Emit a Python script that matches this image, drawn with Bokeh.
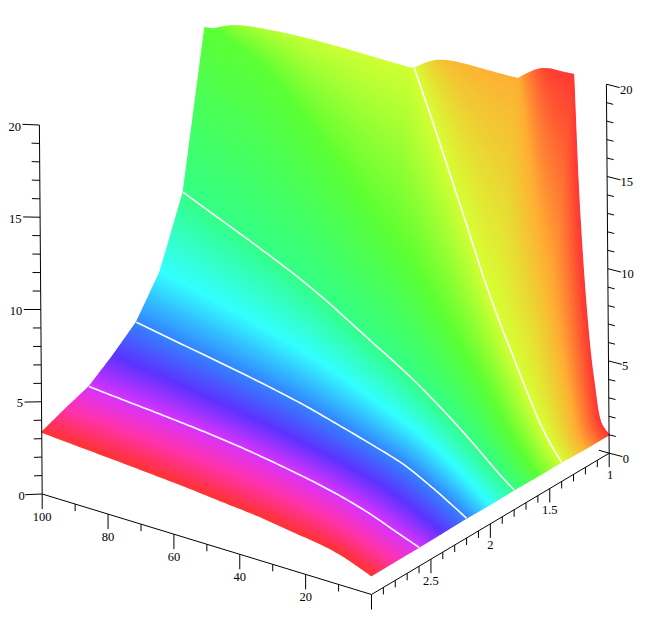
import numpy as np
from bokeh.plotting import figure
from bokeh.core.properties import value
from bokeh.embed import file_html
from bokeh.resources import INLINE

# ---- data: one height profile per level of y -------------------------------
y_nodes = [1.0, 1.2, 1.4, 1.6, 1.8, 2.0, 2.2, 2.4, 2.6, 2.8, 3.0]
x_y10 = [0, 2.4, 3.5, 4.2, 5.3, 8.6, 10, 15, 100]
z_y10 = [1.00, 1.50, 2.30, 3.30, 4.80, 13.2, 20.3, 45, 300]
x_y12 = [0, 2.5, 5, 8, 11, 15, 19, 25, 100]
z_y12 = [1.00, 1.70, 3.80, 6.80, 10.0, 14.0, 19.3, 26, 120]
x_y14 = [0, 2.5, 6.35, 9.3, 11.3, 14, 18.3, 23.3, 28.2, 33.2, 38.1, 44.1, 50, 100]
z_y14 = [1.05, 1.65, 2.78, 3.89, 4.68, 5.79, 7.55, 9.80, 12.30, 14.80, 17.25, 20.1, 23, 49]
x_y16 = [0, 2.5, 5, 10, 15, 20, 30, 40, 50, 70, 85, 91, 95, 100]
z_y16 = [1.05, 1.55, 2.10, 3.30, 4.70, 6.05, 8.55, 10.9, 12.7, 16.6, 18.97, 19.44, 19.76, 20.3]
x_y18 = [0, 3.1, 13.1, 23.2, 33.3, 42.3, 61.5, 100]
z_y18 = [1.08, 1.50, 3.04, 4.48, 5.73, 6.69, 8.71, 11.76]
x_y20 = [0, 5, 10, 20, 30, 40, 50, 70, 100]
z_y20 = [1.05, 1.75, 2.40, 3.55, 4.40, 5.15, 5.85, 6.95, 8.20]
x_y22 = [0, 4.8, 9.9, 19, 29, 40.2, 50.2, 100]
z_y22 = [1.08, 1.60, 2.13, 2.95, 3.52, 4.09, 4.57, 6.25]
x_y24 = [0, 5, 10, 20, 30, 40, 50, 70, 100]
z_y24 = [1.05, 1.48, 1.95, 2.65, 3.12, 3.52, 3.87, 4.45, 5.20]
x_y26 = [0, 5.6, 15.6, 25.8, 35.9, 59.2, 100]
z_y26 = [1.03, 1.40, 2.08, 2.60, 2.98, 3.63, 4.29]
x_y28 = [0, 5, 10, 20, 30, 40, 50, 70, 100]
z_y28 = [1.03, 1.35, 1.68, 2.25, 2.62, 2.90, 3.12, 3.50, 3.85]
x_y30 = [0, 4.3, 9.3, 14.4, 24.5, 34.6, 44.7, 54.8, 100]
z_y30 = [1.02, 1.33, 1.65, 1.87, 2.13, 2.40, 2.57, 2.75, 3.35]
hue_nodes = [0, 36, 72, 108, 144, 180, 216, 252, 288, 324, 360]
white_lines = [1.4, 1.8, 2.2, 2.6]
x_ticks = [100, 90, 80, 70, 60, 50, 40, 30, 20, 10, 0]
x_labels = {100: "100", 80: "80", 60: "60", 40: "40", 20: "20"}
y_ticks = [1.0, 1.1, 1.2, 1.3, 1.4, 1.5, 1.6, 1.7, 1.8, 1.9, 2.0, 2.1, 2.2, 2.3, 2.4, 2.5, 2.6, 2.7, 2.8, 2.9, 3.0]
y_labels = {1.0: "1", 1.5: "1.5", 2.0: "2", 2.5: "2.5"}
z_ticks = list(range(0, 21))
z_labels = {0: "0", 5: "5", 10: "10", 15: "15", 20: "20"}

profiles = [(x_y10, z_y10), (x_y12, z_y12), (x_y14, z_y14), (x_y16, z_y16), (x_y18, z_y18), (x_y20, z_y20),
            (x_y22, z_y22), (x_y24, z_y24), (x_y26, z_y26), (x_y28, z_y28), (x_y30, z_y30)]
Y = np.array(y_nodes, float)
Z_TOP = 20.0
Z_CAP = 20.4


def pchip(xk, yk, xq):
    """Monotone cubic drawn through the read values, so the curves are not jagged."""
    xk, yk = np.array(xk, float), np.array(yk, float)
    h = np.diff(xk)
    d = np.diff(yk) / h
    m = np.zeros_like(yk)
    for i in range(1, len(xk) - 1):
        if d[i - 1] * d[i] > 0:
            w1, w2 = 2 * h[i] + h[i - 1], h[i] + 2 * h[i - 1]
            m[i] = (w1 + w2) / (w1 / d[i - 1] + w2 / d[i])
    m[0], m[-1] = d[0], d[-1]
    i = np.clip(np.searchsorted(xk, xq, side="right") - 1, 0, len(xk) - 2)
    t = (xq - xk[i]) / h[i]
    return ((2 * t**3 - 3 * t**2 + 1) * yk[i] + (t**3 - 2 * t**2 + t) * h[i] * m[i]
            + (-2 * t**3 + 3 * t**2) * yk[i + 1] + (t**3 - t**2) * h[i] * m[i + 1])


# drawing mesh: finer in x, each row capped like the source surface
XF = np.unique(np.concatenate([np.linspace(0, 12, 25), np.linspace(12, 50, 39), np.linspace(50, 100, 41)]))
ZF = np.minimum(np.array([pchip(a, b, XF) for a, b in profiles]), Z_CAP)


# ---- the view: a fixed projection onto the page ---------------------------
def proj(x, y, z):
    x, y, z = np.asarray(x, float), np.asarray(y, float), np.asarray(z, float)
    px = 371 + (3 - y) * 118.85 - 3.293 * x - 0.14 * z
    py = 594 - (3 - y) * 70.65 - 1.005 * x - 18.45 * z
    return px, py


def profile(y):
    """Heights along x at level y, cut where they leave the box."""
    i = min(np.searchsorted(Y, y, side="right") - 1, len(Y) - 2)
    f = (y - Y[i]) / (Y[i + 1] - Y[i])
    z = ZF[i] * (1 - f) + ZF[i + 1] * f
    xs, zs = [XF[0]], [z[0]]
    for k in range(1, len(XF)):
        if z[k] >= Z_TOP:
            t = (Z_TOP - z[k - 1]) / (z[k] - z[k - 1]) if z[k - 1] < Z_TOP else 0
            xs.append(XF[k - 1] + t * (XF[k] - XF[k - 1]))
            zs.append(Z_TOP)
            break
        xs.append(XF[k])
        zs.append(z[k])
    return np.array(xs), np.array(zs)


def hsv(h, s=0.8, v=1.0):
    h = (h % 360) / 60.0
    c = v * s
    q = c * (1 - abs(h % 2 - 1))
    r, g, b = [(c, q, 0), (q, c, 0), (0, c, q), (0, q, c), (q, 0, c), (c, 0, q)][int(h) % 6]
    m = v - c
    return np.array([r + m, g + m, b + m]) * 255


node_rgb = np.array([hsv(h) for h in hue_nodes])


def rgb_at(y):
    return "#%02x%02x%02x" % tuple(
        int(round(float(np.interp(y, Y, node_rgb[:, c])))) for c in range(3))


p = figure(width=634, height=614, x_range=(0, 634), y_range=(614, 0),
           output_backend="svg", toolbar_location=None, min_border=0,
           outline_line_color=None, background_fill_color="white")
p.axis.visible = False
p.grid.visible = False

# surface: thin strips of constant level, drawn from the back to the front
levels = np.linspace(1.0, 3.0, 241)
pxs, pys, cols = [], [], []
for a, b in zip(levels[:-1], levels[1:]):
    xa, za = profile(a)
    xb, zb = profile(b)
    ax, ay = proj(xa, a, za)
    bx, by = proj(xb, b, zb)
    pxs.append(np.round(np.concatenate([ax, bx[::-1]]), 2).tolist())
    pys.append(np.round(np.concatenate([ay, by[::-1]]), 2).tolist())
    cols.append(rgb_at((a + b) / 2))
p.patches(pxs, pys, fill_color=cols, line_color=cols, line_width=1.1)

# white level lines
wx, wy = [], []
for lv in white_lines:
    xs, zs = profile(lv)
    a, b = proj(xs, lv, zs)
    wx.append(a.tolist())
    wy.append(b.tolist())
p.multi_line(wx, wy, line_color="white", line_width=1.6)

lx, ly = [], []
tx, ty, tt, ta = [], [], [], []


def add_line(a, b):
    lx.append([float(a[0]), float(b[0])])
    ly.append([float(a[1]), float(b[1])])


add_line(proj(100, 3, 0), proj(0, 3, 0))
add_line(proj(0, 3, 0), proj(0, 1, 0))
add_line(proj(100, 3, 0), proj(100, 3, 20))
add_line(proj(0, 1, 0), proj(0, 1, 20))

for v in x_ticks:
    a = proj(v, 3, 0)
    major = v % 20 == 0
    add_line(a, (a[0], a[1] + (15 if major else 7)))
    if v in x_labels:
        tx.append(float(a[0])); ty.append(float(a[1]) + 22.5); tt.append(x_labels[v]); ta.append("center")

for v in y_ticks:
    a = proj(0, v, 0)
    major = abs(v * 2 - round(v * 2)) < 1e-9
    if v == 3.0:
        continue
    add_line(a, (a[0], a[1] + (14 if major else 7)))
    if v in y_labels:
        tx.append(float(a[0]) + (1.0 if v == 1.0 else 0)); ty.append(float(a[1]) + 21.5); tt.append(y_labels[v]); ta.append("center")

for v in z_ticks:
    major = v % 5 == 0
    a = proj(100, 3, v)
    add_line(a, (a[0] - (17 if major else 8), a[1] + (0.07 * (10 - v) * (1 if major else 0.5))))
    if v in z_labels:
        tx.append(float(a[0]) - 18.5 + (0 if v else 1)); ty.append(float(a[1]) + 1.5); tt.append(z_labels[v]); ta.append("right")
    b = proj(0, 1, v)
    add_line(b, (b[0] + (13.3 if major else 6.7), b[1] + (3.4 if major else 1.7)))
    if v in z_labels:
        tx.append(float(b[0]) + 13.5); ty.append(float(b[1]) + 5.5); tt.append(z_labels[v]); ta.append("left")
zero = proj(0, 1, 0)
add_line(zero, (zero[0] - 10.4, zero[1] - 3))

p.multi_line(lx, ly, line_color="black", line_width=1)
p.text(tx, ty, text=tt, text_align=ta, text_baseline="middle",
       text_font=value("Liberation Serif"), text_font_size="12.5px", text_color="black")

open("out.html", "w").write(file_html(p, INLINE))
